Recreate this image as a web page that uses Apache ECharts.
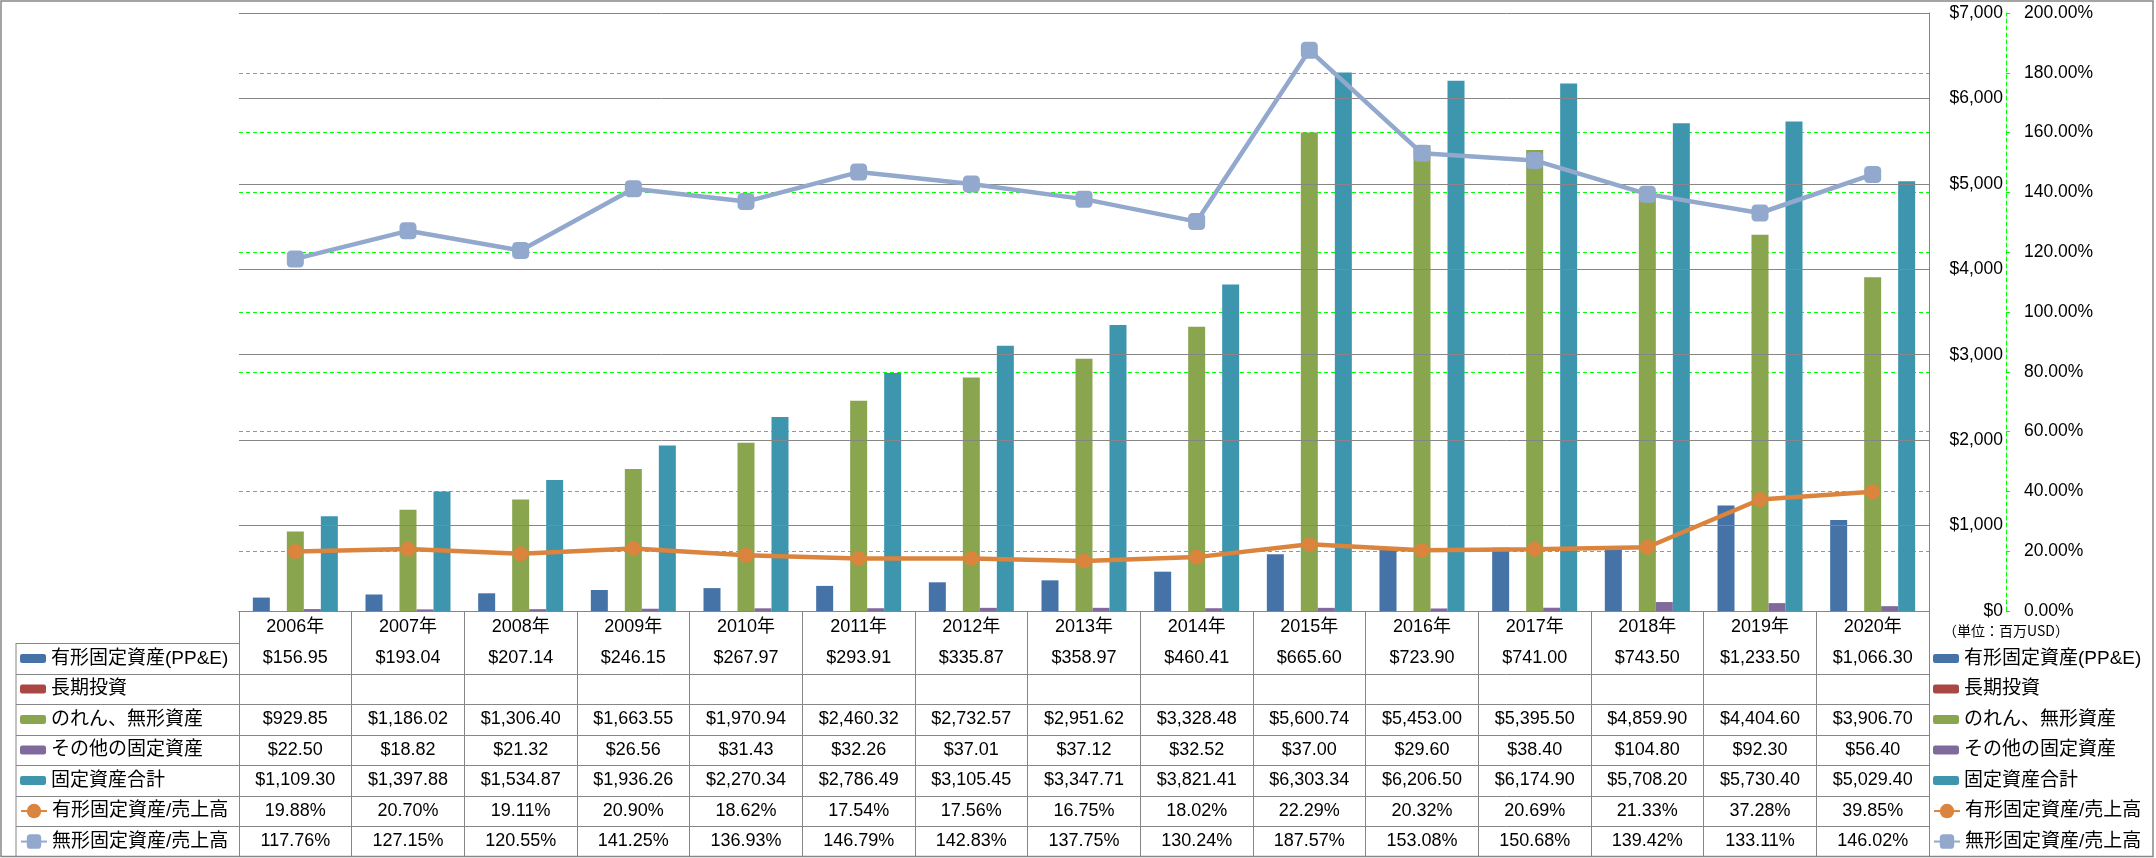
<!DOCTYPE html>
<html>
<head>
<meta charset="utf-8">
<script src="https://cdn.jsdelivr.net/npm/echarts@6/dist/echarts.min.js"></script>
<style>
html,body{margin:0;padding:0;background:#fff;}
#c{width:2156px;height:858px;}
</style>
</head>
<body>
<div id="c"></div>
<script>
// ---- data ----
const years = ['2006年','2007年','2008年','2009年','2010年','2011年','2012年','2013年','2014年','2015年','2016年','2017年','2018年','2019年','2020年'];
const ppe = [156.95,193.04,207.14,246.15,267.97,293.91,335.87,358.97,460.41,665.60,723.90,741.00,743.50,1233.50,1066.30];
const longInv = [null,null,null,null,null,null,null,null,null,null,null,null,null,null,null];
const goodwill = [929.85,1186.02,1306.40,1663.55,1970.94,2460.32,2732.57,2951.62,3328.48,5600.74,5453.00,5395.50,4859.90,4404.60,3906.70];
const otherFixed = [22.50,18.82,21.32,26.56,31.43,32.26,37.01,37.12,32.52,37.00,29.60,38.40,104.80,92.30,56.40];
const totalFixed = [1109.30,1397.88,1534.87,1936.26,2270.34,2786.49,3105.45,3347.71,3821.41,6303.34,6206.50,6174.90,5708.20,5730.40,5029.40];
const ppeRatio = [19.88,20.70,19.11,20.90,18.62,17.54,17.56,16.75,18.02,22.29,20.32,20.69,21.33,37.28,39.85];
const intRatio = [117.76,127.15,120.55,141.25,136.93,146.79,142.83,137.75,130.24,187.57,153.08,150.68,139.42,133.11,146.02];
const leftTicks = {min:0, max:7000, interval:1000};
const rightTicks = {min:0, max:200, interval:20};
const unitLabel = '（単位：百万USD）';

const names = ['有形固定資産(PP&E)','長期投資','のれん、無形資産','その他の固定資産','固定資産合計','有形固定資産/売上高','無形固定資産/売上高'];
const colors = ['#4572A7','#AA4643','#89A54E','#80699B','#3D96AE','#DB843D','#92A8CD'];

// ---- layout ----
const W = 2156, H = 858;
const GL = 239, GR = 1929, GT = 13, GB = 611;
const ROW0 = 643.3, ROWH = 30.5, NROWS = 7;
const TABLE_BOTTOM = 856.5;
const LEFTCOL = 16;
const FONT = "'Liberation Sans', 'Noto Sans CJK JP', sans-serif";
const GRAY = '#868686';

function fmtUSD(v){ return v==null ? '' : '$' + v.toLocaleString('en-US',{minimumFractionDigits:2, maximumFractionDigits:2}); }
function fmtPct(v){ return v==null ? '' : v.toFixed(2) + '%'; }

const rows = [
  {data: ppe, fmt: fmtUSD},
  {data: longInv, fmt: fmtUSD},
  {data: goodwill, fmt: fmtUSD},
  {data: otherFixed, fmt: fmtUSD},
  {data: totalFixed, fmt: fmtUSD},
  {data: ppeRatio, fmt: fmtPct},
  {data: intRatio, fmt: fmtPct}
];

const xAxes = [{
  type:'category', data: years, gridIndex:0, position:'bottom',
  axisLine:{show:true, lineStyle:{color:GRAY, width:1}},
  axisTick:{show:true, length: TABLE_BOTTOM - GB, lineStyle:{color:GRAY, width:1}},
  axisLabel:{interval:0, margin:16, verticalAlign:'middle', fontSize:18, lineHeight:20, color:'#000', fontFamily:FONT}
}];
rows.forEach((r, i) => {
  xAxes.push({
    type:'category', data: years, gridIndex:0, position:'bottom',
    offset: Math.round(ROW0 + i*ROWH) - GB,
    axisLine:{show:true, lineStyle:{color:GRAY, width:1}},
    axisTick:{show:false},
    axisLabel:{interval:0, margin:15, verticalAlign:'middle', fontSize:18, lineHeight:20, color:'#000', fontFamily:FONT,
      formatter: (val, idx) => r.fmt(r.data[idx])}
  });
});

const graphics = [
  {type:'rect', silent:true, shape:{x:1, y:1, width:W-4, height:TABLE_BOTTOM-1}, style:{fill:'none', stroke:GRAY, lineWidth:1.5}},
  {type:'line', silent:true, shape:{x1:LEFTCOL, y1:Math.round(ROW0), x2:LEFTCOL, y2:TABLE_BOTTOM}, style:{stroke:GRAY, lineWidth:1}}
];
for (let i = 0; i < NROWS; i++) {
  const y = Math.round(ROW0 + i*ROWH) + 0.5;
  graphics.push({type:'line', silent:true, shape:{x1:LEFTCOL, y1:y, x2:GL, y2:y}, style:{stroke:GRAY, lineWidth:1}});
}
graphics.push({type:'text', silent:true, left:1943, top:624, style:{text:unitLabel, fontSize:14, fontFamily:"'Noto Sans CJK JP', sans-serif", fill:'#000'}});

function legendBlock(left, top, data, itemHeight){
  return {
    orient:'vertical', left:left, top:top, data:data, padding:0,
    itemWidth:26, itemHeight:itemHeight, itemGap: ROWH - 20,
    selectedMode:false,
    textStyle:{fontSize:19, lineHeight:20, color:'#000', fontFamily:FONT}
  };
}
const barNames = names.slice(0,5), lineNames = names.slice(5);
const firstCenter = ROW0 + ROWH/2;
const lineCenter = ROW0 + 5*ROWH + ROWH/2;

const barSeries = [ppe, longInv, goodwill, otherFixed, totalFixed].map((d, i) => ({
  name: names[i], type:'bar', data: d, xAxisIndex:0, yAxisIndex:0,
  barWidth:17, barGap:'0%', itemStyle:{color: colors[i]}, z:2
}));

const option = {
  animation:false,
  backgroundColor:'#fff',
  color: colors,
  textStyle:{fontFamily:FONT},
  grid:{left:GL, right:W-GR, top:GT, bottom:H-GB, containLabel:false},
  legend:[
    legendBlock(20, firstCenter-10, barNames, 9),
    legendBlock(20, lineCenter-10, lineNames, 18),
    legendBlock(1933, firstCenter-10, barNames, 9),
    legendBlock(1933, lineCenter-10, lineNames, 18)
  ],
  xAxis: xAxes,
  yAxis:[
    {type:'value', position:'right', min:leftTicks.min, max:leftTicks.max, interval:leftTicks.interval,
      axisLine:{show:true, lineStyle:{color:GRAY, width:1}},
      axisTick:{show:false},
      splitLine:{show:true, lineStyle:{color:GRAY, width:1}},
      axisLabel:{align:'right', margin:74, fontSize:17.5, color:'#000', fontFamily:FONT,
        formatter: v => '$' + v.toLocaleString('en-US')},
      z:3
    },
    {type:'value', position:'right', offset:77, min:rightTicks.min, max:rightTicks.max, interval:rightTicks.interval,
      axisLine:{show:true, lineStyle:{color:'#00FF00', width:1, type:[4,3]}},
      axisTick:{show:true, length:4, lineStyle:{color:'#00FF00', width:1}},
      splitLine:{show:true, showMaxLine:false, showMinLine:false, lineStyle:{color:'#00FF00', width:1, type:[4,3]}},
      axisLabel:{margin:18, fontSize:17.5, color:'#000', fontFamily:FONT,
        formatter: v => v.toFixed(2) + '%'}
    }
  ],
  graphic: graphics,
  series: barSeries.concat([
    {name: names[5], type:'line', data: ppeRatio, xAxisIndex:0, yAxisIndex:1,
      symbol:'circle', symbolSize:15, lineStyle:{width:4.5, color:colors[5]}, itemStyle:{color:colors[5]}, z:5},
    {name: names[6], type:'line', data: intRatio, xAxisIndex:0, yAxisIndex:1,
      symbol:'roundRect', symbolSize:17, lineStyle:{width:4.5, color:colors[6]}, itemStyle:{color:colors[6]}, z:5}
  ])
};

const chart = echarts.init(document.getElementById('c'), null, {renderer:'canvas'});
chart.setOption(option);
</script>
</body>
</html>
